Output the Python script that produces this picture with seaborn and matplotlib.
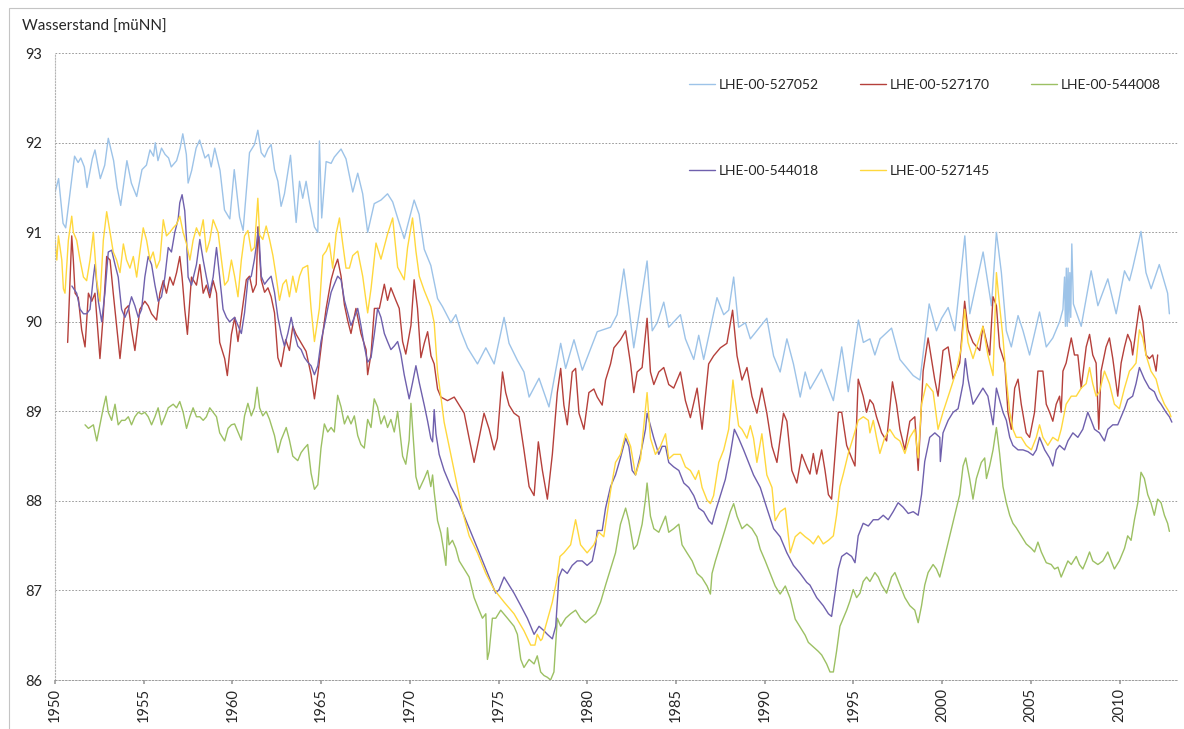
import seaborn as sns
import pandas as pd
import matplotlib.pyplot as plt
from matplotlib.lines import Line2D
from matplotlib.patches import Rectangle

stations = ["LHE-00-527052", "LHE-00-527170", "LHE-00-544008", "LHE-00-544018", "LHE-00-527145"]
colors = ["#9dc3e8", "#b5403b", "#9cc063", "#6f60ad", "#ffd83d"]

# (Jahr, Wasserstand)
gw_527052 = [
    (1950.0, 91.45), (1950.2, 91.6), (1950.45, 91.1), (1950.6, 91.05), (1951.1, 91.85), (1951.3, 91.78),
    (1951.45, 91.83), (1951.65, 91.73), (1951.8, 91.5), (1952.1, 91.82), (1952.25, 91.92), (1952.55, 91.6),
    (1952.8, 91.75), (1953.0, 92.05), (1953.3, 91.8), (1953.5, 91.5), (1953.7, 91.3), (1954.05, 91.8),
    (1954.3, 91.55), (1954.5, 91.45), (1954.6, 91.4), (1954.9, 91.7), (1955.15, 91.75), (1955.35, 91.92),
    (1955.55, 91.85), (1955.65, 92.0), (1955.8, 91.8), (1956.0, 91.94), (1956.2, 91.87), (1956.4, 91.83),
    (1956.55, 91.73), (1956.85, 91.8), (1957.05, 91.94), (1957.2, 92.1), (1957.4, 91.87), (1957.5, 91.55),
    (1957.7, 91.69), (1957.95, 91.94), (1958.15, 92.03), (1958.45, 91.83), (1958.65, 91.87), (1958.8, 91.73),
    (1959.0, 91.94), (1959.3, 91.69), (1959.55, 91.25), (1959.85, 91.15), (1960.1, 91.7), (1960.4, 91.17),
    (1960.6, 91.02), (1960.96, 91.89), (1961.24, 91.98), (1961.43, 92.14), (1961.62, 91.89), (1961.81, 91.84),
    (1962.0, 91.93), (1962.18, 91.98), (1962.37, 91.7), (1962.56, 91.57), (1962.74, 91.29), (1962.93, 91.43),
    (1963.27, 91.86), (1963.59, 91.11), (1963.78, 91.57), (1963.96, 91.38), (1964.15, 91.57), (1964.34, 91.34),
    (1964.62, 91.06), (1964.81, 91.0), (1964.9, 92.02), (1965.03, 91.16), (1965.28, 91.79), (1965.56, 91.77),
    (1965.74, 91.84), (1966.12, 91.93), (1966.4, 91.82), (1966.78, 91.45), (1967.06, 91.66), (1967.34, 91.43),
    (1967.62, 91.0), (1967.99, 91.32), (1968.37, 91.36), (1968.74, 91.43), (1969.03, 91.34), (1969.31, 91.16),
    (1969.68, 90.93), (1970.24, 91.36), (1970.52, 91.2), (1970.81, 90.81), (1971.18, 90.63), (1971.56, 90.26),
    (1971.84, 90.17), (1972.31, 89.99), (1972.59, 90.08), (1972.87, 89.9), (1973.25, 89.71), (1973.81, 89.53),
    (1974.28, 89.71), (1974.75, 89.53), (1975.31, 90.05), (1975.59, 89.76), (1976.06, 89.57), (1976.43, 89.44),
    (1976.72, 89.16), (1977.28, 89.37), (1977.84, 89.05), (1978.5, 89.76), (1978.78, 89.48), (1979.25, 89.8),
    (1979.72, 89.46), (1980.56, 89.89), (1981.31, 89.94), (1981.68, 90.08), (1982.06, 90.59), (1982.34, 90.17),
    (1982.62, 89.71), (1982.91, 90.08), (1983.37, 90.68), (1983.66, 89.9), (1983.94, 89.99), (1984.31, 90.22),
    (1984.59, 89.94), (1985.25, 90.08), (1985.53, 89.81), (1986.0, 89.58), (1986.28, 89.85), (1986.56, 89.58),
    (1987.31, 90.27), (1987.69, 90.08), (1987.97, 90.13), (1988.25, 90.5), (1988.53, 89.94), (1988.91, 89.99),
    (1989.19, 89.81), (1990.12, 90.04), (1990.5, 89.62), (1990.87, 89.44), (1991.25, 89.81), (1991.62, 89.53),
    (1992.0, 89.16), (1992.28, 89.44), (1992.56, 89.25), (1993.2, 89.47), (1993.87, 89.12), (1994.34, 89.72),
    (1994.71, 89.22), (1995.28, 90.02), (1995.56, 89.77), (1995.93, 89.81), (1996.21, 89.63), (1996.5, 89.81),
    (1997.15, 89.93), (1997.62, 89.58), (1998.37, 89.4), (1998.75, 89.35), (1999.27, 90.2), (1999.68, 89.9),
    (1999.97, 90.04), (2000.34, 90.16), (2000.72, 89.9), (2001.28, 90.96), (2001.56, 90.09), (2002.31, 90.78),
    (2002.78, 90.18), (2003.06, 91.0), (2003.34, 90.55), (2003.62, 89.9), (2003.9, 89.72), (2004.28, 90.07),
    (2004.56, 89.9), (2004.93, 89.63), (2005.49, 90.11), (2005.87, 89.72), (2006.24, 89.82), (2006.62, 90.0),
    (2006.81, 90.14), (2006.9, 90.5), (2006.95, 89.95), (2007.0, 90.6), (2007.05, 89.95), (2007.1, 90.6),
    (2007.15, 90.0), (2007.2, 90.55), (2007.25, 90.05), (2007.31, 90.87), (2007.4, 90.2), (2007.84, 89.95),
    (2008.4, 90.57), (2008.78, 90.18), (2009.34, 90.48), (2009.81, 90.09), (2010.28, 90.57), (2010.56, 90.46),
    (2010.74, 90.6), (2011.21, 91.01), (2011.49, 90.55), (2011.78, 90.37), (2012.24, 90.64), (2012.71, 90.32),
    (2012.81, 90.09),
]

gw_527170 = [
    (1950.71, 89.77), (1950.94, 90.96), (1951.03, 90.69), (1951.13, 90.32), (1951.31, 90.27), (1951.5, 89.91),
    (1951.69, 89.72), (1951.88, 90.32), (1952.07, 90.23), (1952.25, 90.32), (1952.53, 89.59), (1952.72, 90.09),
    (1952.91, 90.73), (1953.1, 90.69), (1953.28, 90.32), (1953.47, 89.95), (1953.66, 89.59), (1953.94, 90.14),
    (1954.13, 90.18), (1954.31, 89.91), (1954.5, 89.68), (1954.78, 90.14), (1955.06, 90.23), (1955.25, 90.18),
    (1955.44, 90.09), (1955.72, 90.02), (1955.91, 90.32), (1956.1, 90.46), (1956.28, 90.32), (1956.47, 90.5),
    (1956.66, 90.41), (1956.85, 90.55), (1957.03, 90.73), (1957.16, 90.5), (1957.31, 90.14), (1957.46, 89.86),
    (1957.69, 90.5), (1957.97, 90.41), (1958.16, 90.64), (1958.35, 90.32), (1958.53, 90.41), (1958.72, 90.27),
    (1958.91, 90.46), (1959.1, 90.32), (1959.28, 89.77), (1959.56, 89.59), (1959.71, 89.4), (1959.94, 89.86),
    (1960.13, 90.05), (1960.31, 89.78), (1960.78, 90.47), (1960.96, 90.51), (1961.15, 90.33), (1961.34, 90.42),
    (1961.43, 91.06), (1961.62, 90.47), (1961.81, 90.33), (1962.0, 90.38), (1962.18, 90.28), (1962.37, 90.1),
    (1962.56, 89.6), (1962.74, 89.5), (1963.0, 89.8), (1963.21, 89.68), (1963.4, 89.95), (1963.59, 89.86),
    (1964.15, 89.67), (1964.43, 89.41), (1964.62, 89.14), (1964.81, 89.41), (1965.09, 89.87), (1965.28, 90.15),
    (1965.56, 90.47), (1965.74, 90.6), (1965.93, 90.7), (1966.12, 90.51), (1966.31, 90.19), (1966.5, 90.01),
    (1966.68, 89.87), (1966.96, 90.15), (1967.24, 89.87), (1967.53, 89.69), (1967.62, 89.41), (1967.81, 89.64),
    (1968.0, 90.15), (1968.28, 90.15), (1968.56, 90.42), (1968.74, 90.24), (1968.93, 90.38), (1969.21, 90.24),
    (1969.4, 90.15), (1969.59, 89.78), (1969.77, 89.64), (1970.06, 89.96), (1970.24, 90.47), (1970.43, 90.15),
    (1970.62, 89.6), (1970.81, 89.76), (1971.0, 89.89), (1971.19, 89.62), (1971.37, 89.53), (1971.56, 89.25),
    (1971.75, 89.16), (1972.12, 89.12), (1972.5, 89.16), (1973.06, 88.98), (1973.34, 88.7), (1973.62, 88.43),
    (1973.9, 88.7), (1974.18, 88.98), (1974.47, 88.8), (1974.75, 88.57), (1974.93, 88.7), (1975.22, 89.44),
    (1975.4, 89.21), (1975.59, 89.07), (1975.87, 88.98), (1976.15, 88.94), (1976.43, 88.57), (1976.72, 88.16),
    (1977.0, 88.06), (1977.24, 88.66), (1977.47, 88.34), (1977.75, 88.02), (1978.03, 88.52), (1978.31, 89.21),
    (1978.5, 89.48), (1978.68, 89.07), (1978.87, 88.85), (1979.15, 89.44), (1979.34, 89.48), (1979.53, 88.98),
    (1979.81, 88.8), (1980.09, 89.21), (1980.37, 89.25), (1980.56, 89.16), (1980.84, 89.07), (1981.03, 89.35),
    (1981.31, 89.53), (1981.5, 89.71), (1981.87, 89.8), (1982.16, 89.9), (1982.44, 89.53), (1982.62, 89.21),
    (1982.81, 89.44), (1983.09, 89.49), (1983.37, 90.04), (1983.56, 89.44), (1983.75, 89.3), (1984.03, 89.44),
    (1984.31, 89.49), (1984.59, 89.3), (1984.87, 89.26), (1985.25, 89.44), (1985.53, 89.12), (1985.81, 88.93),
    (1986.19, 89.26), (1986.47, 88.8), (1986.84, 89.53), (1987.12, 89.62), (1987.5, 89.71), (1987.87, 89.76),
    (1988.19, 90.13), (1988.44, 89.62), (1988.72, 89.35), (1989.0, 89.49), (1989.28, 89.17), (1989.56, 88.98),
    (1989.84, 89.26), (1990.12, 88.98), (1990.41, 88.61), (1990.69, 88.43), (1991.06, 88.98), (1991.25, 88.89),
    (1991.53, 88.34), (1991.81, 88.2), (1992.09, 88.52), (1992.37, 88.38), (1992.55, 88.3), (1992.74, 88.53),
    (1992.93, 88.3), (1993.21, 88.57), (1993.4, 88.34), (1993.59, 88.07), (1993.77, 88.02), (1994.15, 88.99),
    (1994.34, 88.99), (1994.62, 88.62), (1994.9, 88.48), (1995.09, 88.39), (1995.27, 89.36), (1995.55, 89.17),
    (1995.74, 88.99), (1995.93, 89.13), (1996.12, 89.08), (1996.3, 88.94), (1996.59, 88.76), (1996.87, 88.67),
    (1997.2, 89.33), (1997.43, 89.08), (1997.62, 88.8), (1997.9, 88.57), (1998.18, 88.89), (1998.46, 88.94),
    (1998.65, 88.34), (1998.93, 89.45), (1999.21, 89.82), (1999.58, 89.36), (1999.77, 89.17), (2000.05, 89.68),
    (2000.34, 89.72), (2000.62, 89.36), (2000.99, 89.54), (2001.27, 90.23), (2001.46, 89.91), (2001.74, 89.77),
    (2002.12, 89.68), (2002.3, 89.95), (2002.68, 89.63), (2002.87, 90.28), (2003.06, 90.18), (2003.24, 89.72),
    (2003.53, 89.54), (2003.71, 88.99), (2003.9, 88.8), (2004.09, 89.26), (2004.28, 89.36), (2004.46, 89.08),
    (2004.74, 88.76), (2004.93, 88.71), (2005.21, 88.99), (2005.4, 89.45), (2005.68, 89.45), (2005.87, 89.08),
    (2006.06, 88.99), (2006.24, 88.89), (2006.43, 89.08), (2006.62, 89.17), (2006.71, 88.99), (2006.81, 89.45),
    (2006.99, 89.54), (2007.28, 89.82), (2007.46, 89.63), (2007.65, 89.63), (2007.84, 89.26), (2008.12, 89.72),
    (2008.31, 89.86), (2008.49, 89.63), (2008.68, 89.54), (2008.83, 88.8), (2008.96, 89.45), (2009.24, 89.72),
    (2009.43, 89.82), (2009.62, 89.59), (2009.9, 89.17), (2010.09, 89.54), (2010.28, 89.72), (2010.46, 89.86),
    (2010.65, 89.77), (2010.74, 89.63), (2010.93, 89.91), (2011.12, 90.18), (2011.31, 90.0), (2011.49, 89.63),
    (2011.68, 89.59), (2011.87, 89.63), (2012.06, 89.45), (2012.15, 89.63),
]

gw_544008 = [
    (1951.69, 88.85), (1951.88, 88.81), (1952.16, 88.85), (1952.35, 88.67), (1952.53, 88.85), (1952.72, 89.04),
    (1952.87, 89.17), (1953.0, 88.99), (1953.19, 88.9), (1953.38, 89.08), (1953.56, 88.85), (1953.75, 88.9),
    (1953.94, 88.9), (1954.13, 88.94), (1954.31, 88.85), (1954.5, 88.94), (1954.69, 88.99), (1954.88, 88.97),
    (1955.06, 88.99), (1955.25, 88.94), (1955.44, 88.85), (1955.63, 88.94), (1955.81, 89.04), (1956.0, 88.85),
    (1956.19, 88.94), (1956.38, 89.04), (1956.66, 89.08), (1956.85, 89.04), (1957.03, 89.11), (1957.22, 88.99),
    (1957.41, 88.81), (1957.6, 88.94), (1957.78, 89.04), (1957.97, 88.94), (1958.16, 88.94), (1958.35, 88.9),
    (1958.53, 88.94), (1958.72, 89.04), (1958.91, 88.99), (1959.1, 88.94), (1959.28, 88.76), (1959.56, 88.67),
    (1959.75, 88.81), (1959.94, 88.85), (1960.12, 88.86), (1960.31, 88.77), (1960.5, 88.68), (1960.68, 88.95),
    (1960.87, 89.09), (1961.06, 88.95), (1961.24, 89.04), (1961.39, 89.27), (1961.53, 89.04), (1961.71, 88.95),
    (1961.9, 89.0), (1962.09, 88.91), (1962.37, 88.73), (1962.56, 88.54), (1962.74, 88.68), (1963.03, 88.82),
    (1963.21, 88.68), (1963.4, 88.5), (1963.68, 88.45), (1963.87, 88.54), (1964.06, 88.59), (1964.24, 88.63),
    (1964.43, 88.31), (1964.62, 88.13), (1964.81, 88.18), (1964.99, 88.59), (1965.18, 88.86), (1965.37, 88.77),
    (1965.56, 88.82), (1965.74, 88.77), (1965.93, 89.18), (1966.12, 89.05), (1966.31, 88.86), (1966.5, 88.95),
    (1966.68, 88.86), (1966.87, 88.95), (1967.06, 88.73), (1967.24, 88.63), (1967.43, 88.59), (1967.62, 88.91),
    (1967.81, 88.82), (1967.99, 89.14), (1968.18, 89.05), (1968.37, 88.86), (1968.56, 88.95), (1968.74, 88.82),
    (1968.93, 88.91), (1969.12, 88.77), (1969.31, 89.0), (1969.49, 88.68), (1969.59, 88.5), (1969.77, 88.41),
    (1969.96, 88.68), (1970.06, 89.09), (1970.15, 88.82), (1970.34, 88.27), (1970.53, 88.13), (1970.81, 88.25),
    (1971.0, 88.34), (1971.18, 88.16), (1971.28, 88.29), (1971.37, 88.1), (1971.56, 87.78), (1971.75, 87.64),
    (1971.93, 87.42), (1972.03, 87.28), (1972.12, 87.7), (1972.21, 87.51), (1972.4, 87.56), (1972.59, 87.47),
    (1972.78, 87.33), (1973.06, 87.24), (1973.34, 87.15), (1973.62, 86.92), (1973.9, 86.78), (1974.09, 86.69),
    (1974.28, 86.74), (1974.37, 86.23), (1974.47, 86.32), (1974.65, 86.69), (1974.84, 86.69), (1975.12, 86.78),
    (1975.5, 86.69), (1975.87, 86.6), (1976.06, 86.51), (1976.25, 86.23), (1976.43, 86.14), (1976.72, 86.23),
    (1977.0, 86.18), (1977.18, 86.27), (1977.37, 86.09), (1977.56, 86.05), (1977.75, 86.03), (1977.93, 86.0),
    (1978.12, 86.09), (1978.31, 86.69), (1978.5, 86.6), (1978.78, 86.69), (1979.06, 86.74), (1979.34, 86.78),
    (1979.62, 86.69), (1979.9, 86.64), (1980.18, 86.69), (1980.47, 86.74), (1980.75, 86.87), (1981.03, 87.06),
    (1981.31, 87.24), (1981.59, 87.42), (1981.87, 87.74), (1982.16, 87.92), (1982.34, 87.78), (1982.62, 87.46),
    (1982.81, 87.51), (1983.09, 87.74), (1983.28, 88.02), (1983.37, 88.2), (1983.56, 87.83), (1983.75, 87.69),
    (1984.03, 87.65), (1984.22, 87.74), (1984.41, 87.83), (1984.59, 87.65), (1984.87, 87.69), (1985.16, 87.74),
    (1985.34, 87.51), (1985.62, 87.42), (1985.91, 87.33), (1986.19, 87.19), (1986.47, 87.14), (1986.75, 87.05),
    (1986.94, 86.96), (1987.03, 87.19), (1987.22, 87.33), (1987.5, 87.51), (1987.78, 87.69), (1988.06, 87.88),
    (1988.25, 87.97), (1988.44, 87.83), (1988.72, 87.69), (1989.0, 87.74), (1989.28, 87.69), (1989.56, 87.6),
    (1989.75, 87.46), (1990.03, 87.33), (1990.31, 87.19), (1990.59, 87.05), (1990.87, 86.96), (1991.16, 87.05),
    (1991.44, 86.91), (1991.72, 86.68), (1992.0, 86.59), (1992.28, 86.5), (1992.46, 86.42), (1992.74, 86.37),
    (1993.02, 86.32), (1993.21, 86.28), (1993.49, 86.18), (1993.68, 86.09), (1993.87, 86.09), (1994.05, 86.32),
    (1994.24, 86.6), (1994.43, 86.69), (1994.62, 86.78), (1994.8, 86.88), (1994.99, 87.01), (1995.18, 86.92),
    (1995.37, 86.97), (1995.55, 87.1), (1995.74, 87.15), (1995.93, 87.1), (1996.21, 87.2), (1996.4, 87.15),
    (1996.59, 87.06), (1996.87, 86.97), (1997.15, 87.15), (1997.34, 87.2), (1997.62, 87.06), (1997.9, 86.92),
    (1998.18, 86.83), (1998.46, 86.78), (1998.65, 86.64), (1998.84, 86.83), (1999.02, 87.06), (1999.21, 87.2),
    (1999.49, 87.29), (1999.68, 87.24), (1999.87, 87.15), (2000.15, 87.38), (2000.43, 87.61), (2000.71, 87.84),
    (2000.99, 88.07), (2001.18, 88.39), (2001.33, 88.48), (2001.55, 88.25), (2001.74, 88.02), (2001.93, 88.25),
    (2002.21, 88.43), (2002.4, 88.48), (2002.5, 88.25), (2002.68, 88.39), (2002.87, 88.57), (2003.06, 88.82),
    (2003.24, 88.53), (2003.43, 88.16), (2003.62, 87.98), (2003.81, 87.84), (2003.99, 87.75), (2004.18, 87.7),
    (2004.46, 87.61), (2004.74, 87.52), (2005.03, 87.47), (2005.21, 87.43), (2005.4, 87.54), (2005.59, 87.43),
    (2005.87, 87.31), (2006.15, 87.29), (2006.34, 87.24), (2006.53, 87.26), (2006.71, 87.15), (2006.9, 87.24),
    (2007.09, 87.33), (2007.28, 87.29), (2007.56, 87.38), (2007.74, 87.29), (2007.93, 87.24), (2008.12, 87.33),
    (2008.31, 87.43), (2008.49, 87.33), (2008.78, 87.29), (2009.06, 87.33), (2009.34, 87.43), (2009.53, 87.33),
    (2009.71, 87.24), (2009.99, 87.33), (2010.28, 87.47), (2010.46, 87.61), (2010.65, 87.56), (2010.84, 87.79),
    (2011.03, 87.98), (2011.21, 88.32), (2011.4, 88.25), (2011.59, 88.07), (2011.77, 87.98), (2011.96, 87.84),
    (2012.15, 88.02), (2012.34, 87.98), (2012.53, 87.84), (2012.71, 87.75), (2012.81, 87.66),
]

gw_544018 = [
    (1950.95, 90.4), (1951.22, 90.32), (1951.41, 90.14), (1951.6, 90.09), (1951.78, 90.09), (1951.97, 90.14),
    (1952.16, 90.5), (1952.25, 90.64), (1952.44, 90.23), (1952.63, 90.0), (1952.81, 90.32), (1953.0, 90.78),
    (1953.19, 90.8), (1953.38, 90.64), (1953.56, 90.5), (1953.75, 90.14), (1953.94, 90.05), (1954.13, 90.14),
    (1954.31, 90.28), (1954.5, 90.18), (1954.69, 90.05), (1954.88, 90.14), (1955.06, 90.5), (1955.25, 90.73),
    (1955.44, 90.64), (1955.63, 90.41), (1955.81, 90.23), (1956.0, 90.28), (1956.19, 90.5), (1956.38, 90.83),
    (1956.56, 90.78), (1956.75, 91.0), (1956.94, 91.15), (1957.03, 91.33), (1957.16, 91.42), (1957.31, 91.24),
    (1957.41, 90.92), (1957.5, 90.5), (1957.69, 90.41), (1957.97, 90.64), (1958.16, 90.92), (1958.35, 90.69),
    (1958.53, 90.5), (1958.72, 90.32), (1958.91, 90.5), (1959.1, 90.83), (1959.28, 90.5), (1959.47, 90.14),
    (1959.66, 90.05), (1959.84, 90.0), (1960.12, 90.05), (1960.31, 89.96), (1960.5, 89.87), (1960.68, 90.1),
    (1960.87, 90.47), (1961.06, 90.51), (1961.24, 90.7), (1961.39, 90.92), (1961.47, 91.06), (1961.62, 90.51),
    (1961.81, 90.42), (1962.0, 90.47), (1962.18, 90.51), (1962.37, 90.33), (1962.56, 90.05), (1962.74, 89.87),
    (1962.93, 89.73), (1963.12, 89.87), (1963.31, 90.05), (1963.49, 89.87), (1963.68, 89.73), (1963.87, 89.69),
    (1964.06, 89.6), (1964.24, 89.55), (1964.43, 89.51), (1964.62, 89.41), (1964.81, 89.51), (1964.99, 89.78),
    (1965.18, 89.96), (1965.37, 90.15), (1965.56, 90.33), (1965.74, 90.42), (1965.93, 90.51), (1966.12, 90.47),
    (1966.31, 90.24), (1966.5, 90.1), (1966.68, 89.96), (1966.87, 90.05), (1967.06, 90.15), (1967.24, 89.96),
    (1967.43, 89.73), (1967.62, 89.55), (1967.81, 89.6), (1968.0, 89.87), (1968.18, 90.15), (1968.37, 90.05),
    (1968.56, 89.87), (1968.74, 89.78), (1968.93, 89.69), (1969.12, 89.73), (1969.31, 89.78), (1969.49, 89.64),
    (1969.68, 89.41), (1969.96, 89.14), (1970.15, 89.32), (1970.34, 89.51), (1970.53, 89.32), (1970.81, 89.07),
    (1971.0, 88.89), (1971.18, 88.7), (1971.28, 88.66), (1971.37, 89.02), (1971.47, 88.75), (1971.65, 88.52),
    (1971.93, 88.34), (1972.31, 88.16), (1972.68, 88.02), (1973.25, 87.74), (1973.81, 87.47), (1974.28, 87.24),
    (1974.65, 87.06), (1974.84, 86.97), (1975.03, 87.01), (1975.31, 87.15), (1975.59, 87.06), (1975.87, 86.97),
    (1976.25, 86.83), (1976.62, 86.69), (1977.0, 86.51), (1977.28, 86.6), (1977.56, 86.55), (1977.75, 86.51),
    (1978.03, 86.46), (1978.22, 86.6), (1978.4, 87.15), (1978.59, 87.24), (1978.87, 87.19), (1979.15, 87.28),
    (1979.43, 87.33), (1979.71, 87.33), (1979.99, 87.28), (1980.28, 87.33), (1980.47, 87.51), (1980.56, 87.67),
    (1980.84, 87.67), (1981.03, 87.92), (1981.31, 88.16), (1981.59, 88.29), (1981.87, 88.48), (1982.16, 88.7),
    (1982.34, 88.61), (1982.53, 88.34), (1982.72, 88.29), (1983.0, 88.52), (1983.28, 88.8), (1983.37, 88.98),
    (1983.56, 88.84), (1983.75, 88.7), (1984.03, 88.52), (1984.22, 88.61), (1984.41, 88.61), (1984.59, 88.43),
    (1984.87, 88.38), (1985.16, 88.34), (1985.44, 88.2), (1985.72, 88.15), (1986.0, 88.06), (1986.28, 87.92),
    (1986.56, 87.88), (1986.84, 87.78), (1987.03, 87.74), (1987.22, 87.88), (1987.5, 88.06), (1987.78, 88.24),
    (1988.06, 88.52), (1988.29, 88.8), (1988.53, 88.7), (1988.81, 88.57), (1989.09, 88.43), (1989.37, 88.29),
    (1989.75, 88.15), (1990.12, 87.92), (1990.5, 87.69), (1990.87, 87.6), (1991.25, 87.42), (1991.62, 87.28),
    (1992.0, 87.19), (1992.37, 87.09), (1992.55, 87.06), (1992.93, 86.92), (1993.3, 86.83), (1993.59, 86.74),
    (1993.77, 86.71), (1993.96, 86.97), (1994.15, 87.24), (1994.34, 87.38), (1994.62, 87.42), (1994.9, 87.38),
    (1995.09, 87.31), (1995.27, 87.61), (1995.55, 87.75), (1995.84, 87.72), (1996.12, 87.79), (1996.4, 87.79),
    (1996.68, 87.84), (1996.96, 87.79), (1997.24, 87.88), (1997.52, 87.98), (1997.8, 87.93), (1998.09, 87.86),
    (1998.37, 87.88), (1998.65, 87.84), (1998.84, 88.07), (1999.02, 88.44), (1999.3, 88.71), (1999.59, 88.76),
    (1999.87, 88.71), (1999.9, 88.44), (2000.05, 88.76), (2000.34, 88.9), (2000.62, 88.99), (2000.9, 89.03),
    (2001.18, 89.31), (2001.31, 89.59), (2001.46, 89.36), (2001.74, 89.08), (2002.02, 89.17), (2002.3, 89.26),
    (2002.58, 89.17), (2002.87, 88.85), (2003.06, 89.26), (2003.24, 89.13), (2003.43, 88.99), (2003.62, 88.9),
    (2003.81, 88.71), (2003.99, 88.62), (2004.28, 88.57), (2004.56, 88.57), (2004.84, 88.55), (2005.12, 88.51),
    (2005.31, 88.57), (2005.49, 88.71), (2005.78, 88.57), (2006.06, 88.48), (2006.24, 88.39), (2006.43, 88.57),
    (2006.62, 88.62), (2006.9, 88.57), (2007.09, 88.67), (2007.37, 88.76), (2007.65, 88.71), (2007.93, 88.8),
    (2008.21, 88.99), (2008.4, 88.9), (2008.59, 88.8), (2008.87, 88.76), (2009.15, 88.67), (2009.34, 88.8),
    (2009.62, 88.85), (2009.9, 88.85), (2010.09, 88.94), (2010.28, 89.03), (2010.46, 89.13), (2010.74, 89.17),
    (2010.93, 89.31), (2011.12, 89.49), (2011.4, 89.36), (2011.68, 89.26), (2011.96, 89.22), (2012.15, 89.13),
    (2012.34, 89.08), (2012.62, 88.99), (2012.81, 88.94), (2012.95, 88.88),
]

gw_527145 = [
    (1950.0, 90.91), (1950.1, 90.69), (1950.19, 90.96), (1950.38, 90.69), (1950.47, 90.37), (1950.56, 90.32),
    (1950.75, 90.91), (1950.94, 91.18), (1951.03, 91.0), (1951.22, 90.91), (1951.41, 90.69), (1951.6, 90.5),
    (1951.78, 90.46), (1951.97, 90.69), (1952.16, 91.0), (1952.35, 90.46), (1952.53, 90.23), (1952.72, 90.91),
    (1952.91, 91.23), (1953.1, 91.0), (1953.28, 90.78), (1953.47, 90.69), (1953.66, 90.55), (1953.85, 90.87),
    (1954.03, 90.69), (1954.22, 90.6), (1954.41, 90.73), (1954.6, 90.5), (1954.78, 90.78), (1954.97, 91.05),
    (1955.16, 90.91), (1955.35, 90.69), (1955.53, 90.78), (1955.72, 90.6), (1955.91, 90.69), (1956.1, 91.14),
    (1956.28, 90.96), (1956.47, 91.0), (1956.66, 91.05), (1956.85, 91.09), (1957.03, 91.18), (1957.22, 91.0),
    (1957.41, 90.87), (1957.6, 90.69), (1957.78, 90.91), (1957.97, 91.05), (1958.16, 90.96), (1958.35, 91.14),
    (1958.53, 90.78), (1958.72, 90.91), (1958.91, 91.14), (1959.19, 91.0), (1959.38, 90.69), (1959.56, 90.41),
    (1959.75, 90.46), (1959.94, 90.69), (1960.12, 90.51), (1960.31, 90.28), (1960.5, 90.69), (1960.68, 90.96),
    (1960.87, 91.02), (1961.06, 90.79), (1961.24, 90.83), (1961.43, 91.38), (1961.53, 90.97), (1961.71, 90.92),
    (1961.9, 91.07), (1962.09, 90.92), (1962.28, 90.74), (1962.46, 90.51), (1962.65, 90.24), (1962.84, 90.42),
    (1963.03, 90.47), (1963.21, 90.28), (1963.4, 90.51), (1963.59, 90.33), (1963.78, 90.51), (1963.96, 90.6),
    (1964.24, 90.63), (1964.43, 90.15), (1964.62, 89.78), (1964.9, 90.15), (1965.09, 90.74), (1965.28, 90.79),
    (1965.46, 90.88), (1965.65, 90.6), (1965.84, 90.98), (1966.03, 91.16), (1966.21, 90.88), (1966.4, 90.6),
    (1966.59, 90.6), (1966.78, 90.74), (1967.06, 90.79), (1967.34, 90.51), (1967.62, 90.1), (1967.81, 90.37),
    (1968.09, 90.88), (1968.37, 90.7), (1968.74, 90.98), (1969.03, 91.16), (1969.31, 90.61), (1969.68, 90.47),
    (1969.87, 90.83), (1970.15, 91.16), (1970.34, 90.79), (1970.53, 90.51), (1970.81, 90.35), (1971.18, 90.17),
    (1971.37, 89.99), (1971.56, 89.44), (1971.75, 89.16), (1971.93, 88.88), (1972.12, 88.7), (1972.4, 88.43),
    (1972.68, 88.16), (1972.97, 87.88), (1973.34, 87.61), (1973.81, 87.42), (1974.28, 87.19), (1974.75, 87.01),
    (1975.31, 86.87), (1975.87, 86.74), (1976.43, 86.55), (1976.81, 86.39), (1977.05, 86.39), (1977.18, 86.51),
    (1977.37, 86.44), (1977.46, 86.46), (1977.65, 86.6), (1978.03, 86.87), (1978.31, 87.15), (1978.46, 87.38),
    (1978.68, 87.42), (1979.06, 87.51), (1979.34, 87.79), (1979.62, 87.51), (1979.99, 87.42), (1980.37, 87.51),
    (1980.65, 87.65), (1980.93, 87.6), (1981.31, 88.11), (1981.59, 88.43), (1981.87, 88.52), (1982.16, 88.75),
    (1982.44, 88.61), (1982.72, 88.29), (1983.0, 88.47), (1983.37, 89.21), (1983.56, 88.7), (1983.84, 88.52),
    (1984.12, 88.61), (1984.41, 88.75), (1984.59, 88.47), (1984.87, 88.52), (1985.25, 88.52), (1985.53, 88.38),
    (1985.81, 88.34), (1986.09, 88.24), (1986.28, 88.34), (1986.47, 88.15), (1986.75, 88.01), (1986.94, 87.97),
    (1987.12, 88.06), (1987.41, 88.43), (1987.69, 88.57), (1987.97, 88.8), (1988.21, 89.35), (1988.34, 89.12),
    (1988.53, 88.84), (1988.72, 88.8), (1989.0, 88.7), (1989.19, 88.84), (1989.37, 88.7), (1989.56, 88.43),
    (1989.84, 88.75), (1990.12, 88.29), (1990.41, 88.15), (1990.59, 87.78), (1990.87, 87.88), (1991.16, 87.92),
    (1991.44, 87.42), (1991.72, 87.6), (1992.0, 87.65), (1992.28, 87.6), (1992.55, 87.56), (1992.74, 87.52),
    (1993.02, 87.61), (1993.3, 87.52), (1993.59, 87.56), (1993.87, 87.61), (1994.05, 87.84), (1994.24, 88.16),
    (1994.43, 88.3), (1994.71, 88.53), (1994.99, 88.71), (1995.27, 88.9), (1995.56, 88.94), (1995.84, 88.9),
    (1995.93, 88.76), (1996.12, 88.9), (1996.3, 88.71), (1996.49, 88.53), (1996.77, 88.71), (1997.05, 88.8),
    (1997.34, 88.71), (1997.62, 88.67), (1997.9, 88.53), (1998.18, 88.71), (1998.46, 88.8), (1998.65, 88.48),
    (1998.84, 89.08), (1999.12, 89.31), (1999.49, 89.22), (1999.77, 88.8), (2000.05, 88.99), (2000.43, 89.22),
    (2000.8, 89.45), (2001.09, 89.72), (2001.27, 90.14), (2001.46, 89.77), (2001.74, 89.59), (2002.02, 89.77),
    (2002.3, 89.95), (2002.58, 89.63), (2002.87, 89.4), (2003.06, 90.55), (2003.24, 90.18), (2003.43, 89.82),
    (2003.62, 89.36), (2003.81, 88.99), (2003.99, 88.8), (2004.18, 88.71), (2004.46, 88.71), (2004.74, 88.62),
    (2005.03, 88.57), (2005.31, 88.71), (2005.49, 88.85), (2005.68, 88.71), (2005.96, 88.62), (2006.24, 88.71),
    (2006.53, 88.67), (2006.71, 88.8), (2006.99, 89.08), (2007.28, 89.17), (2007.56, 89.17), (2007.84, 89.26),
    (2008.12, 89.31), (2008.31, 89.49), (2008.49, 89.31), (2008.68, 89.17), (2008.87, 89.22), (2009.15, 89.45),
    (2009.43, 89.31), (2009.71, 89.08), (2009.99, 89.03), (2010.28, 89.26), (2010.56, 89.45), (2010.74, 89.49),
    (2010.93, 89.54), (2011.12, 89.91), (2011.31, 89.82), (2011.49, 89.63), (2011.77, 89.45), (2012.06, 89.36),
    (2012.24, 89.22), (2012.53, 89.08), (2012.81, 88.99), (2012.9, 88.94),
]

series = [gw_527052, gw_527170, gw_544008, gw_544018, gw_527145]
frames = []
for name, pts in zip(stations, series):
    df = pd.DataFrame(pts, columns=["Jahr", "Wasserstand"])
    df["Messstelle"] = name
    frames.append(df)
data = pd.concat(frames, ignore_index=True)

sns.set_theme(style="white")
plt.rcParams["font.family"] = ["Lato", "DejaVu Sans"]

fig = plt.figure(figsize=(11.84, 7.29), dpi=100)
ax = fig.add_axes([0.0465, 0.0672, 0.9485, 0.8598])

sns.lineplot(data=data, x="Jahr", y="Wasserstand", hue="Messstelle", hue_order=stations,
             palette=colors, estimator=None, sort=False, linewidth=1.0, legend=False, ax=ax)

ax.set_xlim(1950, 2013.3)
ax.set_ylim(86, 93)
ax.set_xticks(range(1950, 2011, 5))
ax.set_yticks(range(86, 94))
ax.set_xlabel("")
ax.set_ylabel("")
ax.tick_params(axis="x", labelrotation=90, labelsize=10.5, length=3, color="#a0a0a0", pad=3, bottom=True)
ax.tick_params(axis="y", labelsize=10.5, length=0, pad=9)
ax.grid(axis="y", color="#8c8c8c", linestyle=(0, (2, 2)), linewidth=0.6)
for s in ["top", "right"]:
    ax.spines[s].set_visible(False)
ax.spines["left"].set_color("#b4b4b4")
ax.spines["left"].set_linestyle(":")
ax.spines["left"].set_linewidth(0.8)
ax.spines["bottom"].set_color("#8c8c8c")
ax.spines["bottom"].set_linestyle((0, (2, 2)))
ax.spines["bottom"].set_linewidth(0.6)

fig.text(22 / 1184, 1 - 27 / 729, "Wasserstand [müNN]", fontsize=11, va="center", ha="left")

handles = [Line2D([], [], color=c, linewidth=1.0) for c in colors]
order = [0, 3, 1, 4, 2]
ax.legend([handles[i] for i in order], [stations[i] for i in order], ncol=3, loc="upper left",
          bbox_to_anchor=(689 / 1184, 1 - 79 / 729), bbox_transform=fig.transFigure,
          frameon=False, fontsize=10, handlelength=1.9, handletextpad=0.25,
          columnspacing=2.95, labelspacing=5.3, borderpad=0, borderaxespad=0)

fig.add_artist(Rectangle((0.008, -0.01), 1.2, 0.999, transform=fig.transFigure,
                         fill=False, edgecolor="#c4c4c4", linewidth=0.8))

fig.savefig("out.png", dpi=100)
